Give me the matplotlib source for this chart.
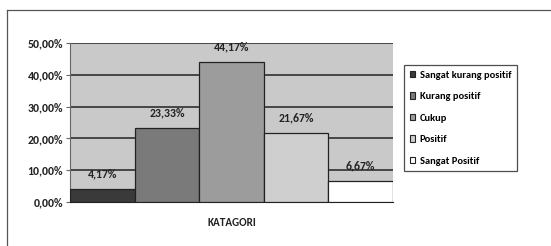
import matplotlib
matplotlib.use("Agg")
import matplotlib.pyplot as plt
from matplotlib.patches import Rectangle
from matplotlib.lines import Line2D

categories = ["Sangat kurang positif", "Kurang positif", "Cukup", "Positif", "Sangat Positif"]
values = [4.17, 23.33, 44.17, 21.67, 6.67]
labels = ["4,17%", "23,33%", "44,17%", "21,67%", "6,67%"]
yticks = [0, 10, 20, 30, 40, 50]
ytick_labels = ["0,00%", "10,00%", "20,00%", "30,00%", "40,00%", "50,00%"]
colors = ["#3a3a3a", "#7a7a7a", "#9c9c9c", "#cfcfcf", "#ffffff"]
xlabel = "KATAGORI"

FAM = ['Carlito', 'Lato', 'DejaVu Sans']
plt.rcParams['font.family'] = FAM

W, H = 551, 246
fig = plt.figure(figsize=(W/100, H/100), dpi=100)
fig.patch.set_facecolor("white")

# outer frame lines (top and left)
fig.add_artist(Line2D([7/W, 1], [1-10/H, 1-10/H], color="#555555", lw=0.9))
fig.add_artist(Line2D([7/W, 7/W], [1-10/H, 0], color="#555555", lw=0.9))

ax = fig.add_axes([70/W, 1-202/H, (393-70)/W, (202-43)/H])
ax.set_facecolor("#c9c9c9")
ax.set_xlim(-0.5, 4.5)
ax.set_ylim(0, 50)
ax.set_yticks(yticks)
ax.set_yticklabels(ytick_labels, fontsize=8.5, fontweight="bold", color="#222222")
ax.set_xticks([])
ax.yaxis.grid(True, color="#222222", lw=1.1)
ax.set_axisbelow(True)
for s in ["top", "right"]:
    ax.spines[s].set_visible(False)
ax.spines["left"].set_color("#666666")
ax.spines["bottom"].set_color("#222222")
ax.tick_params(axis="y", length=3, width=0.8, color="#666666", pad=2)

bars = ax.bar(range(len(values)), values, width=1.0, color=colors,
              edgecolor="#222222", linewidth=0.9, zorder=3)
for i, (v, t) in enumerate(zip(values, labels)):
    ax.annotate(t, (i, v), xytext=(0, 7), textcoords="offset points",
                ha="center", va="bottom", fontsize=8.5, fontweight="bold", color="#222222")

ax.text(0.5, -0.13, xlabel, transform=ax.transAxes, ha="center", va="center",
        fontsize=8, fontweight="bold", color="#222222")

handles = [Rectangle((0, 0), 1, 1, facecolor=c, edgecolor="#222222", lw=0.8) for c in colors]
leg = fig.legend(handles, categories, loc="upper left",
                 bbox_to_anchor=(404/W, 1-65/H), borderaxespad=0, frameon=True,
                 fancybox=False, edgecolor="#222222", handlelength=0.55, handleheight=0.55,
                 handletextpad=0.4, labelspacing=1.2, borderpad=0.55,
                 prop={"family": FAM, "weight": "bold", "size": 7.5})
leg.get_frame().set_linewidth(0.9)

fig.savefig("out.png", dpi=100)
